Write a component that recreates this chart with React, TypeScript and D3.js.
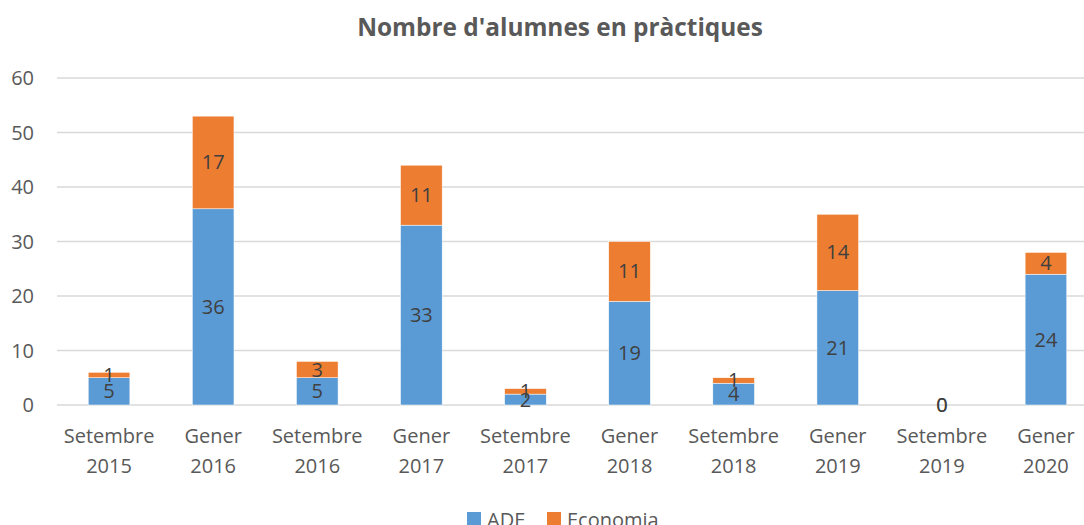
import React from "react";
import * as d3 from "d3";

const categories: string[][] = [
  ["Setembre", "2015"], ["Gener", "2016"], ["Setembre", "2016"], ["Gener", "2017"],
  ["Setembre", "2017"], ["Gener", "2018"], ["Setembre", "2018"], ["Gener", "2019"],
  ["Setembre", "2019"], ["Gener", "2020"],
];
const ade: number[] = [5, 36, 5, 33, 2, 19, 4, 21, 0, 24];
const economia: number[] = [1, 17, 3, 11, 1, 11, 1, 14, 0, 4];
const yTicks: number[] = [0, 10, 20, 30, 40, 50, 60];
const seriesNames = ["ADE", "Economia"];
const colors = ["#5B9BD5", "#ED7D31"];

const W = 1084, H = 525;
const FONT = "'Open Sans', sans-serif";

export default function App() {
  const x = d3.scaleBand<number>()
    .domain(d3.range(categories.length))
    .range([57, 1098])
    .paddingInner(0.6)
    .paddingOuter(0.3);
  const y = d3.scaleLinear().domain([0, 60]).range([405, 78]);
  const series = [ade, economia];
  const stacks = d3.stack<number>().keys(["0", "1"]).value((i, k) => series[+k][i])(d3.range(categories.length));

  return (
    <svg width={W} height={H} style={{ position: "absolute", left: 0, top: 0, background: "#fff" }} fontFamily={FONT}>
      <text x={560} y={36} textAnchor="middle" fontSize={24.4} fontWeight="bold" fill="#595959">
        Nombre d'alumnes en pràctiques
      </text>
      {yTicks.map((t) => (
        <g key={t}>
          <line x1={57} x2={1098} y1={y(t)} y2={y(t)} stroke="#D9D9D9" strokeWidth={1.5} />
          <text x={34} y={y(t) + 7} textAnchor="end" fontSize={20} fill="#595959">{t}</text>
        </g>
      ))}
      {stacks.map((s, si) => (
        <g key={si}>
          {s.map((d, i) => (
            <rect key={i} x={x(i)!} width={x.bandwidth()} y={y(d[1])} height={y(d[0]) - y(d[1])}
              fill={colors[si]} stroke="#fff" strokeWidth={0.5} />
          ))}
        </g>
      ))}
      {stacks.map((s, si) => (
        <g key={"l" + si}>
          {s.map((d, i) => (
            <text key={i} x={x(i)! + x.bandwidth() / 2} y={(y(d[0]) + y(d[1])) / 2 + 7}
              textAnchor="middle" fontSize={20} fill="#404040">{series[si][i]}</text>
          ))}
        </g>
      ))}
      {categories.map((c, i) => (
        <text key={i} x={x(i)! + x.bandwidth() / 2} textAnchor="middle" fontSize={20} fill="#595959">
          <tspan x={x(i)! + x.bandwidth() / 2} y={443}>{c[0]}</tspan>
          <tspan x={x(i)! + x.bandwidth() / 2} y={473}>{c[1]}</tspan>
        </text>
      ))}
      {seriesNames.map((n, i) => {
        const lx = [467, 547][i];
        return (
          <g key={n}>
            <rect x={lx} y={512} width={14} height={14} fill={colors[i]} />
            <text x={lx + 20} y={527} fontSize={20} fill="#595959">{n}</text>
          </g>
        );
      })}
    </svg>
  );
}
